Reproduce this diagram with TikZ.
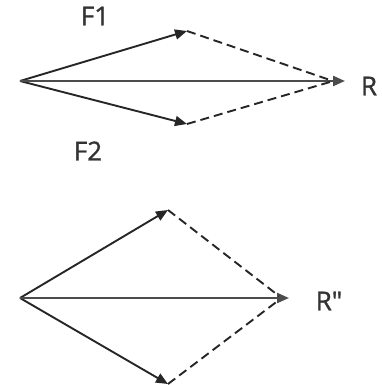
\documentclass[tikz,border=0pt]{standalone}
\usepackage{fontspec}
\newfontfamily\lblfont{Open Sans}[FakeBold=1.2]
\usetikzlibrary{arrows.meta}
\begin{document}
\begin{tikzpicture}[x=1pt,y=-1pt,
  vec/.style={draw=black!85, line width=1.9pt, -{Triangle[length=12pt,width=10pt]}},
  res/.style={draw=black!70, line width=2.2pt, -{Triangle[length=12pt,width=10pt]}},
  comp/.style={draw=black!85, line width=1.9pt, dash pattern=on 9pt off 5pt},
  lbl/.style={font=\lblfont\fontsize{26}{26}\selectfont, text=black!80, inner sep=0pt}]
\useasboundingbox (0,0) rectangle (382,385);
% top
\coordinate (O1) at (20,81);
\coordinate (A1) at (187,31);
\coordinate (B1) at (187,124);
\coordinate (R1) at (345,81);
\draw[vec] (O1) -- (A1);
\draw[vec] (O1) -- (B1);
\draw[res] (O1) -- (R1);
\draw[comp] (A1) -- (330,80);
\draw[comp] (B1) -- (330,82);
\node[lbl] (f1) at (95,16) {F1};
\node[lbl] (f2) at (88,151) {F2};
\node[lbl] (r) at (369,86) {R};
% bottom
\coordinate (O2) at (20,298);
\coordinate (A2) at (168,210);
\coordinate (B2) at (168,384);
\coordinate (R2) at (289,298);
\draw[vec] (O2) -- (A2);
\draw[vec] (O2) -- (B2);
\draw[res] (O2) -- (R2);
\draw[comp] (A2) -- (279,296);
\draw[comp] (B2) -- (279,300);
\node[lbl] (r2) at (329,301) {R\symbol{34}};
\end{tikzpicture}
\end{document}
